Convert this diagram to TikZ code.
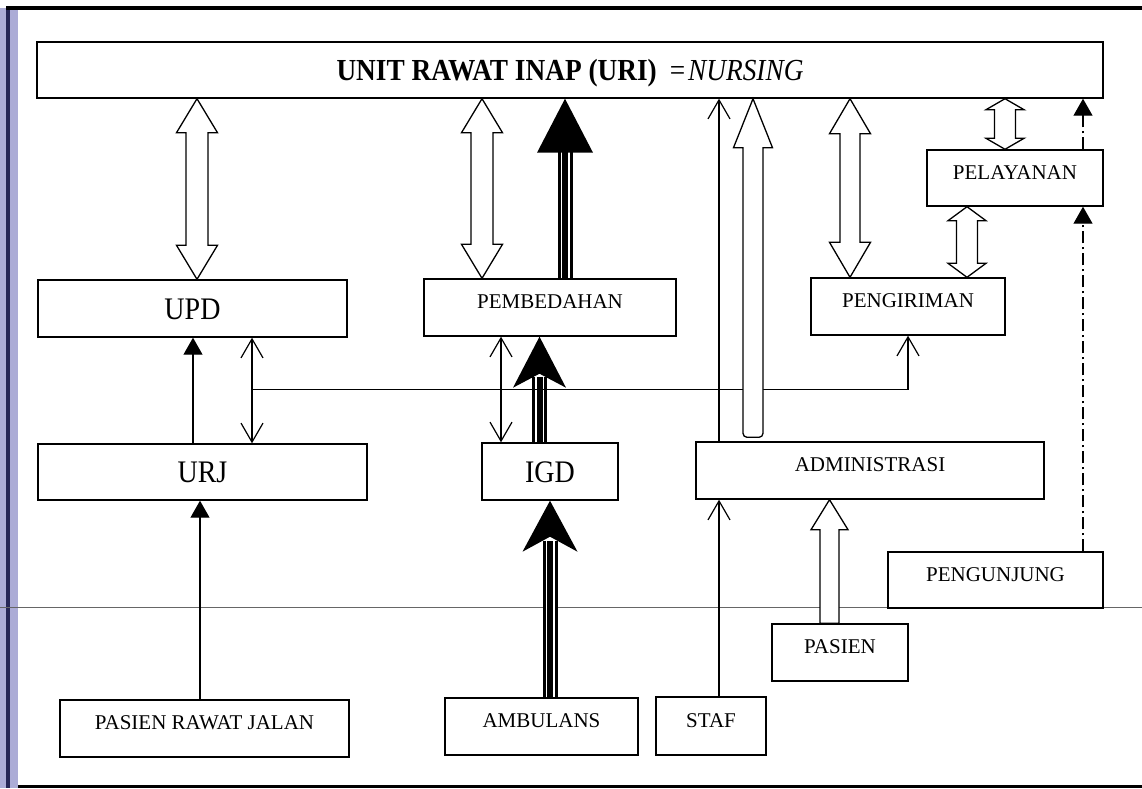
\documentclass[tikz,border=0pt]{standalone}
\usepackage{fontspec}
\setmainfont{Liberation Serif}
\usetikzlibrary{arrows.meta,calc}

\definecolor{bandlav}{RGB}{172,172,214}
\definecolor{bandnavy}{RGB}{38,38,85}

% slightly taller lettering for the main labels
\newcommand\tallword[1]{\scalebox{1}[1.12]{#1}}

% open block arrow with a head at both ends: upper tip, lower tip, shaft half-width, head half-width, head length
\newcommand\dblblock[5]{%
  \filldraw[blockarrow] let \p1=#1, \p2=#2 in
    (\x1,\y1) -- (\x1+#4pt,\y1-#5pt) -- (\x1+#3pt,\y1-#5pt) -- (\x1+#3pt,\y2+#5pt)
    -- (\x1+#4pt,\y2+#5pt) -- (\x1,\y2) -- (\x1-#4pt,\y2+#5pt) -- (\x1-#3pt,\y2+#5pt)
    -- (\x1-#3pt,\y1-#5pt) -- (\x1-#4pt,\y1-#5pt) -- cycle;}
% open block arrow pointing up: tip, tail, shaft half-width, head half-width, head length
\newcommand\upblock[5]{%
  \filldraw[blockarrow] let \p1=#1, \p2=#2 in
    (\x1,\y1) -- (\x1+#4pt,\y1-#5pt) -- (\x1+#3pt,\y1-#5pt) -- (\x1+#3pt,\y2)
    -- (\x1-#3pt,\y2) -- (\x1-#3pt,\y1-#5pt) -- (\x1-#4pt,\y1-#5pt) -- cycle;}
% black / white / black striped shaft
\newcommand\tripleshaft[2]{%
  \draw[line width=15pt] #1 -- #2;
  \draw[line width=9pt,white] #1 -- #2;
  \draw[line width=6pt] #1 -- #2;}
% solid triangular head: tip, half-width, length
\newcommand\trihead[3]{%
  \fill let \p1=#1 in (\x1,\y1) -- (\x1+#2pt,\y1-#3pt) -- (\x1-#2pt,\y1-#3pt) -- cycle;}
% solid head with notched back: tip, half-width, length, notch depth
\newcommand\notchhead[4]{%
  \fill let \p1=#1 in (\x1,\y1) -- (\x1+#2pt,\y1-#3pt) -- (\x1,\y1-#3pt+#4pt)
    -- (\x1-#2pt,\y1-#3pt) -- cycle;}

\begin{document}
\begin{tikzpicture}[x=1pt,y=-1pt,
  box/.style={draw,line width=1.4pt,fill=white,inner sep=0pt},
  small/.style={box,font=\fontsize{21}{21}\selectfont,text height=14pt,text depth=12pt,minimum height=57},
  big/.style={box,font=\fontsize{28}{28}\selectfont,text height=21pt,text depth=0pt,minimum height=57},
  blockarrow/.style={draw,line width=1.3pt,fill=white,line join=miter},
  thinline/.style={line width=1.2pt},
  barb/.style={thinline,-{Straight Barb[width=22pt,length=19pt,line width=1.2pt]}},
  dblbarb/.style={thinline,{Straight Barb[width=22pt,length=19pt,line width=1.2pt]}-{Straight Barb[width=22pt,length=19pt,line width=1.2pt]}},
  solidtip/.style={thinline,-{Triangle[width=19pt,length=17pt]}},
  dashdot/.style={thinline,dash pattern=on 12pt off 4pt on 2pt off 4pt,-{Triangle[width=19pt,length=17pt]}}
]
\useasboundingbox (0,0) rectangle (1142,788);

% page edge band and rules
\fill[bandlav] (0,8) rectangle (18,788);
\fill[bandnavy] (6,8) rectangle (10,788);
\draw[line width=4pt] (6,8) -- (1142,8);
\draw[line width=3pt] (18,786) -- (1142,786);
\draw[black!60,line width=1pt] (0,607) -- (1142,607);

% boxes
\node[box,minimum width=1066,minimum height=56,font=\fontsize{27.3}{27}\selectfont,text height=20pt,text depth=0pt]
  (uri) at (570,70) {\tallword{\textbf{UNIT RAWAT INAP (URI)}\hspace{13pt}=\hspace{3pt}\textit{NURSING}}};
\node[big,minimum width=309] (upd) at (192.5,308.5) {\tallword{UPD}};
\node[big,minimum width=329,minimum height=56] (urj) at (202.5,472) {\tallword{URJ}};
\node[big,minimum width=136] (igd) at (550,471.5) {\tallword{IGD}};
\node[small,minimum width=252] (pemb) at (550,307.5) {PEMBEDAHAN};
\node[small,minimum width=194] (peng) at (908,306.5) {PENGIRIMAN};
\node[small,minimum width=176,minimum height=56] (pel) at (1015,178) {PELAYANAN};
\node[small,minimum width=348] (adm) at (870,470.5) {ADMINISTRASI};
\node[small,minimum width=215,minimum height=56] (visit) at (995.5,580) {PENGUNJUNG};
\node[small,minimum width=136] (pasien) at (840,652.5) {PASIEN};
\node[small,minimum width=289] (prj) at (204.5,728.5) {PASIEN RAWAT JALAN};
\node[small,minimum width=193] (amb) at (541.5,726.5) {AMBULANS};
\node[small,minimum width=110,minimum height=58] (staf) at (711,726) {STAF};

% UPD <-> URI
\coordinate (a1b) at ([xshift=4.5]upd.north);
\coordinate (a1t) at (a1b |- uri.south);
\dblblock{(a1t)}{(a1b)}{11}{20.5}{34}

% PEMBEDAHAN <-> URI
\coordinate (a2b) at ([xshift=-68]pemb.north);
\coordinate (a2t) at (a2b |- uri.south);
\dblblock{(a2t)}{(a2b)}{11}{20.5}{34}

% PEMBEDAHAN -> URI (heavy)
\coordinate (a3b) at ([xshift=15]pemb.north);
\coordinate (a3t) at (a3b |- uri.south);
\coordinate (a3h) at ([yshift=-53]a3t);
\tripleshaft{(a3b)}{(a3h)}
\trihead{(a3t)}{28}{54}

% IGD -> PEMBEDAHAN (heavy)
\coordinate (a4b) at ([xshift=-10.5]igd.north);
\coordinate (a4t) at (a4b |- pemb.south);
\coordinate (a4h) at ([yshift=-40]a4t);
\tripleshaft{(a4b)}{(a4h)}
\notchhead{(a4t)}{26.5}{51}{14}

% AMBULANS -> IGD (heavy)
\coordinate (a5b) at ([xshift=8.5]amb.north);
\coordinate (a5t) at (a5b |- igd.south);
\coordinate (a5h) at ([yshift=-40]a5t);
\tripleshaft{(a5b)}{(a5h)}
\notchhead{(a5t)}{27.5}{51}{15}

% PEMBEDAHAN <-> IGD
\coordinate (a6t) at ([xshift=-49]pemb.south);
\coordinate (a6b) at (a6t |- igd.north);
\draw[dblbarb] (a6t) -- (a6b);

% UPD <-> URJ, with branch to PENGIRIMAN
\coordinate (a7t) at ([xshift=59.5]upd.south);
\coordinate (a7b) at (a7t |- urj.north);
\draw[dblbarb] (a7t) -- (a7b);
\coordinate (br) at ([yshift=-52]a7t);
\draw[barb] (br) -| (peng.south);

% URJ -> UPD
\coordinate (a8b) at ([xshift=-9.5]urj.north);
\coordinate (a8t) at (a8b |- upd.south);
\draw[solidtip] (a8b) -- (a8t);

% PASIEN RAWAT JALAN -> URJ
\coordinate (a9b) at ([xshift=-4.5]prj.north);
\coordinate (a9t) at (a9b |- urj.south);
\draw[solidtip] (a9b) -- (a9t);

% STAF -> ADMINISTRASI
\coordinate (a10b) at ([xshift=8]staf.north);
\coordinate (a10t) at (a10b |- adm.south);
\draw[barb] (a10b) -- (a10t);

% ADMINISTRASI -> URI (thin)
\coordinate (a11b) at ([xshift=-151]adm.north);
\coordinate (a11t) at (a11b |- uri.south);
\draw[barb] (a11b) -- (a11t);

% ADMINISTRASI -> URI (block, rounded tail)
\coordinate (a12b) at ([xshift=-117,yshift=4]adm.north);
\coordinate (a12t) at (a12b |- uri.south);
\filldraw[blockarrow] let \p1=(a12t), \p2=(a12b) in
  (\x1,\y1) -- (\x1+19.5pt,\y1-49pt) -- (\x1+10pt,\y1-49pt)
  [rounded corners=4pt] -- (\x1+10pt,\y2) -- (\x1-10pt,\y2)
  [sharp corners] -- (\x1-10pt,\y1-49pt) -- (\x1-19.5pt,\y1-49pt) -- cycle;

% PASIEN -> ADMINISTRASI
\coordinate (a13b) at ([xshift=-10.5]pasien.north);
\coordinate (a13t) at (a13b |- adm.south);
\upblock{(a13t)}{(a13b)}{9.5}{18.5}{30}

% PENGIRIMAN <-> URI
\coordinate (a14b) at ([xshift=-58]peng.north);
\coordinate (a14t) at (a14b |- uri.south);
\dblblock{(a14t)}{(a14b)}{10}{20.5}{35}

% PELAYANAN <-> URI
\coordinate (a15b) at ([xshift=-10]pel.north);
\coordinate (a15t) at (a15b |- uri.south);
\dblblock{(a15t)}{(a15b)}{10.5}{19}{11}

% PENGIRIMAN <-> PELAYANAN
\coordinate (a16b) at ([xshift=59]peng.north);
\coordinate (a16t) at (a16b |- pel.south);
\dblblock{(a16t)}{(a16b)}{10.5}{19}{14}

% PENGUNJUNG -> PELAYANAN -> URI
\coordinate (a17b) at ([xshift=87.5]visit.north);
\coordinate (a17t) at (a17b |- pel.south);
\draw[dashdot] (a17b) -- (a17t);
\coordinate (a18b) at ([xshift=68]pel.north);
\coordinate (a18t) at (a18b |- uri.south);
\draw[dashdot] (a18b) -- (a18t);
\end{tikzpicture}
\end{document}
